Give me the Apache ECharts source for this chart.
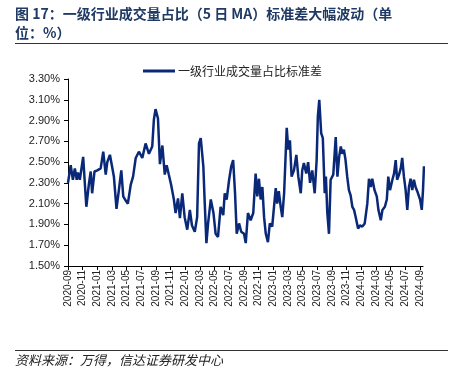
<!DOCTYPE html>
<html>
<head>
<meta charset="utf-8">
<script src="https://cdn.jsdelivr.net/npm/echarts@6/dist/echarts.min.js"></script>
<style>html,body{margin:0;padding:0;background:#fff;}#c{width:455px;height:379px;}</style>
</head>
<body>
<div id="c"></div>
<script>
var titleLines = ['图 17：一级行业成交量占比（5 日 MA）标准差大幅波动（单', '位：%）'];
var sourceText = '资料来源：万得，信达证券研发中心';
var seriesName = '一级行业成交量占比标准差';
var yTicks = ['1.50%','1.70%','1.90%','2.10%','2.30%','2.50%','2.70%','2.90%','3.10%','3.30%'];
var xTickMonths = [0,2,4,6,8,10,12,14,16,18,20,22,24,26,28,30,32,34,36,38,40,42,44,46,48];

var dates = [
'2020-09-01','2020-09-12','2020-09-21','2020-09-29','2020-10-07','2020-10-12','2020-10-20','2020-11-03','2020-11-16','2020-11-27',
'2020-12-04','2020-12-10','2020-12-20','2021-01-01','2021-01-15','2021-01-26','2021-02-05','2021-02-11','2021-02-21','2021-03-01',
'2021-03-09','2021-03-20','2021-03-30','2021-04-09','2021-04-17','2021-04-27','2021-05-06','2021-05-18','2021-05-28','2021-06-08',
'2021-06-21','2021-07-05','2021-07-19','2021-08-02','2021-08-16','2021-08-23','2021-08-30','2021-09-09','2021-09-17','2021-09-27',
'2021-10-07','2021-10-15','2021-10-24','2021-11-03','2021-11-14','2021-11-21','2021-12-01','2021-12-09','2021-12-19','2021-12-29',
'2022-01-09','2022-01-20','2022-01-29','2022-02-09','2022-02-18','2022-02-25','2022-03-04','2022-03-15','2022-03-21','2022-03-28',
'2022-04-04','2022-04-15','2022-04-26','2022-05-05','2022-05-15','2022-05-26','2022-06-06','2022-06-12','2022-06-20','2022-06-30',
'2022-07-09','2022-07-17','2022-07-25','2022-08-01','2022-08-11','2022-08-20','2022-09-01','2022-09-08','2022-09-17','2022-09-28',
'2022-10-09','2022-10-19','2022-10-26','2022-11-02','2022-11-09','2022-11-16','2022-11-23','2022-11-30','2022-12-09','2022-12-17',
'2022-12-27','2023-01-11','2023-01-17','2023-01-24','2023-02-01','2023-02-07','2023-02-14','2023-02-24','2023-03-02','2023-03-09',
'2023-03-16','2023-03-26','2023-04-05','2023-04-13','2023-04-23','2023-04-29','2023-05-06','2023-05-16','2023-05-24','2023-06-01',
'2023-06-10','2023-06-20','2023-06-28','2023-07-03','2023-07-09','2023-07-17','2023-07-24','2023-08-01','2023-08-06','2023-08-12',
'2023-08-19','2023-08-26','2023-09-06','2023-09-16','2023-09-23','2023-09-30','2023-10-07','2023-10-13','2023-10-20','2023-10-27',
'2023-11-03','2023-11-10','2023-11-17','2023-11-24','2023-12-01','2023-12-08','2023-12-18','2023-12-26','2024-01-05','2024-01-15',
'2024-01-26','2024-02-02','2024-02-09','2024-02-15','2024-02-24','2024-03-04','2024-03-11','2024-03-21','2024-03-28','2024-04-07',
'2024-04-15','2024-04-21','2024-04-28','2024-05-08','2024-05-15','2024-05-22','2024-05-28','2024-06-05','2024-06-12','2024-06-18',
'2024-06-25','2024-07-02','2024-07-09','2024-07-16','2024-07-23','2024-07-30','2024-08-06','2024-08-13','2024-08-20','2024-09-01',
'2024-09-08','2024-09-13','2024-09-17'
];
var values = [
2.30,2.47,2.33,2.44,2.33,2.40,2.33,2.55,2.07,2.30,
2.41,2.20,2.41,2.42,2.44,2.60,2.38,2.50,2.57,2.46,
2.36,2.05,2.23,2.42,2.17,2.13,2.10,2.28,2.36,2.54,
2.60,2.54,2.68,2.58,2.65,2.91,3.01,2.92,2.48,2.66,
2.38,2.47,2.38,2.28,2.14,2.01,2.15,1.96,2.20,1.97,
1.85,2.04,1.89,1.83,1.97,2.68,2.73,2.46,2.10,1.72,
1.91,2.14,2.01,1.81,1.78,2.07,1.99,2.20,2.14,2.33,
2.46,2.52,2.20,1.81,1.91,1.83,1.81,1.72,2.01,1.94,
2.01,2.39,2.17,2.34,2.14,2.26,1.97,1.81,1.73,1.91,
1.88,2.25,2.10,2.22,2.07,1.97,2.20,2.83,2.62,2.71,
2.36,2.42,2.57,2.36,2.20,2.42,2.49,2.39,2.50,2.30,
2.42,2.20,2.52,2.94,3.10,2.78,2.73,2.20,2.36,2.01,
1.81,2.33,2.38,2.74,2.36,2.55,2.65,2.58,2.62,2.52,
2.36,2.23,2.18,2.07,2.04,1.97,1.86,1.89,1.88,1.91,
2.10,2.34,2.26,2.34,2.23,2.17,2.04,1.94,2.04,2.07,
2.14,2.36,2.23,2.33,2.39,2.52,2.33,2.38,2.44,2.54,
2.36,2.23,2.04,2.26,2.34,2.23,2.33,2.26,2.22,2.14,
2.04,2.23,2.46
];

var Y_BASE = 1.5;
function monthIndex(s) {
  var p = s.split('-');
  var y = +p[0], m = +p[1], d = +p[2];
  var dim = new Date(y, m, 0).getDate();
  return (y - 2020) * 12 + (m - 9) + (d - 1) / dim;
}
function monthLabel(v) {
  var k = Math.round(v);
  var total = 2020 * 12 + 8 + k;
  var y = Math.floor(total / 12), m = total % 12 + 1;
  return y + '-' + (m < 10 ? '0' + m : m);
}
var seriesData = dates.map(function (d, i) { return [monthIndex(d), +(values[i] - Y_BASE).toFixed(4)]; });

var chart = echarts.init(document.getElementById('c'), null, {renderer: 'canvas'});
var cjk = '"Noto Sans CJK SC", "Noto Sans", sans-serif';
chart.setOption({
  animation: false,
  backgroundColor: '#ffffff',
  textStyle: {fontFamily: cjk},
  grid: {left: 68, right: 32, top: 79, bottom: 113, containLabel: false},
  legend: {
    left: 138, top: 60,
    itemWidth: 32, itemHeight: 3, itemGap: 4,
    icon: 'rect',
    textStyle: {fontSize: 12, color: '#222', fontFamily: cjk, padding: [0, 0, 0, -2]},
    data: [seriesName]
  },
  xAxis: {
    type: 'value', min: 0, max: 48.4,
    splitLine: {show: false},
    axisLine: {lineStyle: {color: '#000', width: 1}},
    axisTick: {show: true, length: 4, lineStyle: {color: '#000'}, customValues: xTickMonths},
    axisLabel: {rotate: 90, fontSize: 10, color: '#222', margin: 4, fontFamily: 'Liberation Sans, Arial, sans-serif',
      customValues: xTickMonths,
      formatter: function (v) { return monthLabel(v); }}
  },
  yAxis: {
    type: 'value', min: 0, max: 1.8, interval: 0.2,
    splitLine: {show: false},
    axisLine: {show: true, lineStyle: {color: '#000', width: 1}},
    axisTick: {show: true, length: 4, lineStyle: {color: '#000'}},
    axisLabel: {fontSize: 11, color: '#222', margin: 8, fontFamily: 'Liberation Sans, Arial, sans-serif',
      formatter: function (v) {
        var i = Math.round(v / 0.2);
        return yTicks[i] !== undefined ? yTicks[i] : (v + Y_BASE).toFixed(2) + '%';
      }}
  },
  series: [{
    name: seriesName,
    type: 'line',
    data: seriesData,
    showSymbol: false,
    symbol: 'none',
    clip: false,
    lineStyle: {color: '#0a2878', width: 2.5},
    itemStyle: {color: '#0a2878'}
  }],
  graphic: [
    {type: 'text', left: 15, top: 7, style: {text: titleLines[0], fontSize: 14, fontWeight: 'bold', fill: '#1f3a64', fontFamily: cjk}},
    {type: 'text', left: 15, top: 26, style: {text: titleLines[1], fontSize: 14, fontWeight: 'bold', fill: '#1f3a64', fontFamily: cjk}},
    {type: 'line', shape: {x1: 15, y1: 43.5, x2: 448, y2: 43.5}, style: {stroke: '#333', lineWidth: 1}},
    {type: 'line', shape: {x1: 15, y1: 350.5, x2: 448, y2: 350.5}, style: {stroke: '#333', lineWidth: 1}},
    {type: 'text', left: 15, top: 354, style: {text: sourceText, fontSize: 13, fontStyle: 'italic', fill: '#222', fontFamily: cjk}}
  ]
});
</script>
</body>
</html>
